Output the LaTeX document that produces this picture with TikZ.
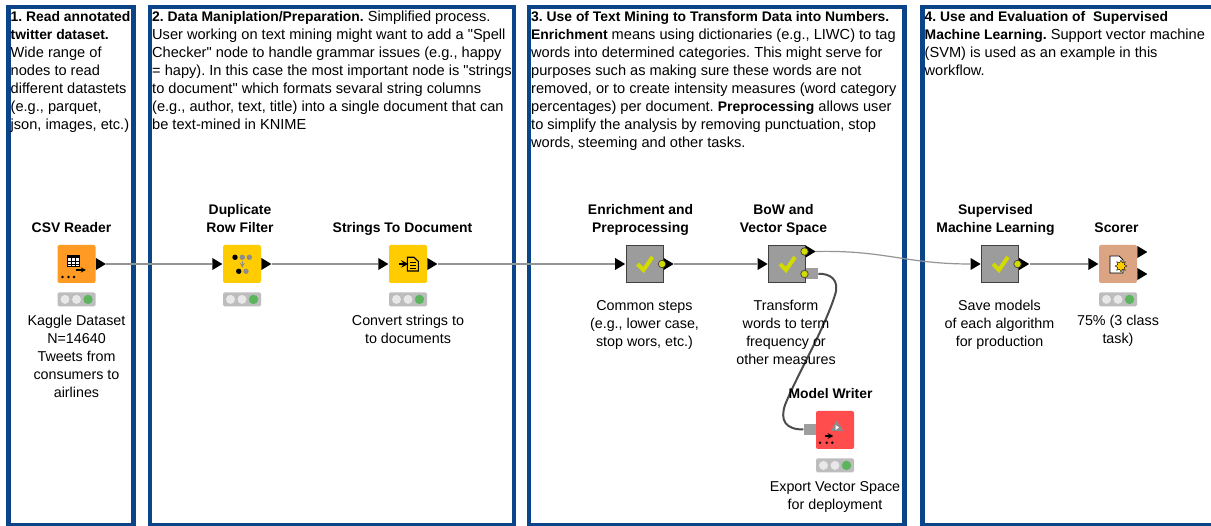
\documentclass[tikz,border=0pt]{standalone}
\usepackage{xcolor}
\usepackage{fontspec}
\setmainfont{Liberation Sans}[Ligatures=TeXOff]
\usetikzlibrary{positioning}
\usetikzlibrary{shapes.geometric}
\usetikzlibrary{calc}
\definecolor{panelblue}{HTML}{0B4488}
\definecolor{csvorange}{HTML}{FF9A24}
\definecolor{mgyellow}{HTML}{FFCC00}
\definecolor{metagray}{HTML}{9C9C9C}
\definecolor{tickyellow}{HTML}{D2DA00}
\definecolor{writered}{HTML}{FF4D4D}
\definecolor{scoretan}{HTML}{DBA483}
\definecolor{lightgreen}{HTML}{5CB45C}
\newcommand{\headbf}[1]{{\fontsize{13.9}{18}\selectfont\bfseries #1}}
\tikzset{panel/.style={draw=panelblue,line width=4.5pt}}
\tikzset{paneltext/.style={inner sep=0pt,anchor=north west,align=left,font=\fontsize{14.6}{18}\selectfont\frenchspacing}}
\tikzset{icon/.style={rectangle,rounded corners=2pt,minimum size=38pt,inner sep=0pt}}
\tikzset{meta/.style={rectangle,draw=black!75,line width=1pt,fill=metagray,minimum size=37pt,inner sep=0pt}}
\tikzset{titletext/.style={inner sep=0pt,align=center,font=\fontsize{13.9}{18}\selectfont\bfseries}}
\tikzset{notetext/.style={inner sep=0pt,align=center,font=\fontsize{14.3}{18}\selectfont}}
\tikzset{lightbox/.style={rectangle,rounded corners=1.5pt,fill=black!26,minimum width=38pt,minimum height=14pt,inner sep=0pt}}
\tikzset{porttip/.style={isosceles triangle,isosceles triangle apex angle=60,fill=black,inner sep=0pt,minimum height=10pt,minimum width=12pt,isosceles triangle stretches}}
\tikzset{portdot/.style={circle,draw=black!75,fill=tickyellow,line width=0.7pt,minimum size=7.5pt,inner sep=0pt}}
\tikzset{portsq/.style={rectangle,fill=black!38,minimum width=12pt,minimum height=11pt,inner sep=0pt}}
\tikzset{wire/.style={draw=black!42,line width=1.4pt}}

\begin{document}
\begin{tikzpicture}[x=1pt,y=-1pt]
	\useasboundingbox (0,0) rectangle (1211,526);
	\fill[white] (0,0) rectangle (1211,526);

	% panels
	\foreach \l/\r in {8.5/133.5,150/514,529/904.5} {
		\draw[panel] (\l,7) rectangle (\r,525);
	}
	\draw[panel] (1212,7) -- (922.5,7) -- (922.5,525) -- (1212,525);

	\node[paneltext] (txtone) at (10.5,11) {\headbf{1. Read annotated}\\\headbf{twitter dataset.}\\Wide range of\\nodes to read\\different datastets\\(e.g., parquet,\\json, images, etc.)};
	\node[paneltext] (txttwo) at (152,11) {\headbf{2. Data Maniplation/Preparation.} Simplified process.\\User working on text mining might want to add a "Spell\\Checker" node to handle grammar issues (e.g., happy\\= hapy). In this case the most important node is "strings\\to document" which formats sevaral string columns\\(e.g., author, text, title) into a single document that can\\be text-mined in KNIME};
	\node[paneltext] (txtthree) at (531,11) {\headbf{3. Use of Text Mining to Transform Data into Numbers.}\\\headbf{Enrichment} means using dictionaries (e.g., LIWC) to tag\\words into determined categories. This might serve for\\purposes such as making sure these words are not\\removed, or to create intensity measures (word category\\percentages) per document. \headbf{Preprocessing} allows user\\to simplify the analysis by removing punctuation, stop\\words, steeming and other tasks.};
	\node[paneltext] (txtfour) at (924.5,11) {\headbf{4. Use and Evaluation of\ \ Supervised}\\\headbf{Machine Learning.} Support vector machine\\(SVM) is used as an example in this\\workflow.};

	% workflow nodes
	\foreach \x/\y/\name/\col in {76.5/264/csv/csvorange,242/264/dup/mgyellow,408/264/strdoc/mgyellow,835/430/writer/writered,1118/264/scorer/scoretan} {
		\node[icon,fill=\col] (\name) at (\x,\y) {};
	}
	\foreach \x/\name in {644.5/enrich,787/bow,1000/svm} {
		\node[meta] (\name) at (\x,264) {};
		\draw[tickyellow,line width=4pt] (\x-7,264) -- (\x-1,270) -- (\x+8,257);
	}

	% traffic lights
	\foreach \name in {csv,dup,strdoc,writer,scorer} {
		\node[lightbox,below=9pt of \name] (\name light) {};
		\fill[black!9] ($(\name light.center)+(-11.5,0)$) circle (4.5);
		\fill[black!9] (\name light.center) circle (4.5);
		\fill[lightgreen] ($(\name light.center)+(11.5,0)$) circle (4.7);
	}

	% ports
	\foreach \name in {dup,strdoc,enrich,bow,svm,scorer} {
		\node[porttip,anchor=east] (\name in) at (\name.west) {};
	}
	\foreach \name in {csv,dup,strdoc} {
		\node[porttip,anchor=west] (\name out) at (\name.east) {};
	}
	\foreach \name in {enrich,svm} {
		\node[porttip,anchor=west] (\name out) at (\name.east) {};
		\node[portdot] (\name dot) at ($(\name.east)+(-1.5,0)$) {};
	}
	\node[porttip,anchor=west] (bowout) at ($(bow.east)+(-0.5,-12.5)$) {};
	\node[portdot] (bowdot) at ($(bow.east)+(-1.5,-12.5)$) {};
	\node[portsq,anchor=west] (bowsq) at ($(bow.east)+(0,10)$) {};
	\node[portdot] (bowdotb) at ($(bow.east)+(-1.5,10)$) {};
	\node[portsq,anchor=east] (writersq) at ($(writer.west)+(0,-0.5)$) {};
	\node[porttip,anchor=west] (scoreroutA) at ($(scorer.east)+(0,-12)$) {};
	\node[porttip,anchor=west] (scoreroutB) at ($(scorer.east)+(0,10)$) {};

	% connectors
	\draw[wire] (csvout.east) -- (dupin.west);
	\draw[wire] (dupout.east) -- (strdocin.west);
	\draw[wire] (strdocout.east) -- (enrichin.west);
	\draw[wire] (enrichout.east) -- (bowin.west);
	\draw[wire] (svmout.east) -- (scorerin.west);
	\draw[wire,line width=1.2pt] (bowout.east) .. controls (885,250) and (905,264) .. (svmin.west);
	\draw[draw=black!70,line width=2pt] (bowsq.east) .. controls (830,273) and (840,280) .. (835,295) .. controls (824,330) and (797,375) .. (785,405) .. controls (780,420) and (785,429.5) .. (writersq.west);

	% icon details
	\begin{scope}[shift={(csv.center)}]
		\draw[black,line width=0.6pt,fill=white] (-9,-9) rectangle (2.5,2.7);
		\fill[black] (-9,-9) rectangle (2.5,-6);
		\draw[black,line width=0.4pt] (-5.2,-6) -- (-5.2,2.7) (-1.3,-6) -- (-1.3,2.7) (-9,-3) -- (2.5,-3) (-9,0) -- (2.5,0);
		\draw[black,line width=1.3pt,-stealth] (-1,6) -- (9.5,6);
		\foreach \x in {-14,-8,-2.5} {
			\fill[black] (\x,13) circle (1.4);
		}
	\end{scope}
	\begin{scope}[shift={(dup.center)}]
		\fill[black] (-7,-6.7) circle (2.7);
		\fill[black!45] (0.3,-6.7) circle (2.7);
		\fill[black!45] (7.3,-6.7) circle (2.7);
		\draw[black!45,line width=1.2pt,-stealth] (0.3,-2.5) -- (0.3,3.8);
		\fill[black] (-3.3,7.3) circle (2.7);
		\fill[black!45] (4,7.3) circle (2.7);
	\end{scope}
	\begin{scope}[shift={(strdoc.center)}]
		\draw[black,line width=2.2pt,-stealth] (-9,0) -- (0.5,0);
		\draw[black,line width=1.1pt] (-0.7,-6.7) -- (6,-6.7) -- (10.3,-2.5) -- (10.3,7) -- (-0.7,7) -- cycle;
		\draw[black,line width=0.8pt] (1.5,-1.5) -- (8,-1.5) (1.5,1.2) -- (8,1.2) (1.5,4) -- (8,4);
	\end{scope}
	\begin{scope}[shift={(writer.center)}]
		\fill[black!45] (1.7,-9.3) -- (8.3,1) -- (-4.3,1) -- cycle;
		\fill[white] (0.5,-5) -- (4,-2.5) -- (0.5,0) -- cycle;
		\draw[black,line width=1.5pt,-stealth] (-10,6) -- (-1.7,6);
		\foreach \x in {-15,-8.3,-2.7} {
			\fill[black] (\x,12.7) circle (1.4);
		}
	\end{scope}
	\begin{scope}[shift={(scorer.center)}]
		\draw[black,line width=0.7pt,fill=white] (-8,-8) -- (1,-8) -- (5,-4) -- (5,9) -- (-8,9) -- cycle;
		\node[star,star points=8,star point ratio=1.7,draw=black,line width=0.4pt,fill=mgyellow,minimum size=12pt,inner sep=0pt] (scorerstar) at (3,2) {};
	\end{scope}

	% labels
	\node[titletext,above=12pt of csv,xshift=-5pt] (csvtitle) {CSV Reader};
	\node[titletext,above=12pt of dup,xshift=-2pt] (duptitle) {Duplicate\\Row Filter};
	\node[titletext,above=9pt of strdoc,xshift=-5.5pt] (strdoctitle) {Strings To Document};
	\node[titletext,above=9pt of enrich,xshift=-4pt] (enrichtitle) {Enrichment and\\Preprocessing};
	\node[titletext,above=9pt of bow,xshift=-3.5pt] (bowtitle) {BoW and\\Vector Space};
	\node[titletext,above=9pt of svm,xshift=-4.5pt] (svmtitle) {Supervised\\Machine Learning};
	\node[titletext,above=12pt of scorer,xshift=-1.5pt] (scorertitle) {Scorer};
	\node[titletext] (writertitle) at (830.5,393.5) {Model Writer};

	\node[notetext,below=8pt of csvlight] (csvnote) {Kaggle Dataset\\N=14640\\Tweets from\\consumers to\\airlines};
	\node[notetext,below=8pt of strdoclight] (strdocnote) {Convert strings to\\to documents};
	\node[notetext] (enrichnote) at (644.5,324.5) {Common steps\\(e.g., lower case,\\stop wors, etc.)};
	\node[notetext] (bownote) at (786,332) {Transform\\words to term\\frequency or\\other measures};
	\node[notetext] (svmnote) at (999.5,324.5) {Save models\\of each algorithm\\for production};
	\node[notetext,below=8pt of scorerlight] (scorernote) {75\% (3 class\\task)};
	\node[notetext,below=9pt of writerlight] (writernote) {Export Vector Space\\for deployment};
\end{tikzpicture}
\end{document}
